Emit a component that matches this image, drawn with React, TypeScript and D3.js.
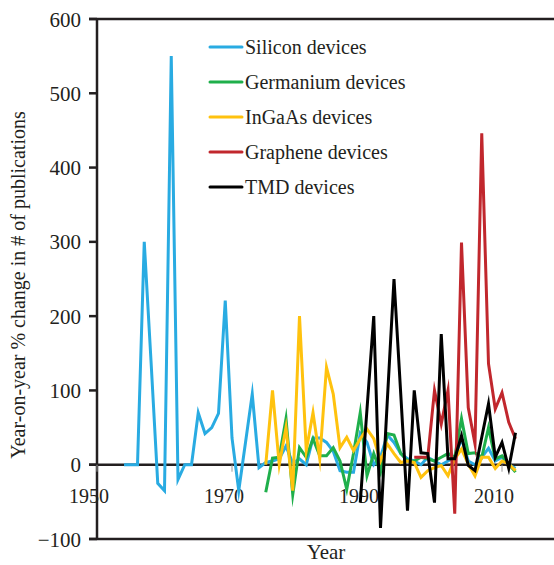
import React from "react";
import * as d3 from "d3";

const siliconStart = 1954;
const siliconValues = [0, 0, 0, 300, 140, -25, -35, 550, -20, 0, 0, 70, 42, 50, 69, 221, 36, -35, 30, 95, -4, 3, 5, 8, 25, 2, 8, 0, 36, 36, 30, 18, -8, -10, -10, 42, 30, 0, 10, 40, 30, 15, 8, 5, 0, 10, 5, 0, 5, 10, 35, 5, 0, 10, 22, 5, 10, 0, -5];

const germaniumStart = 1975;
const germaniumValues = [-37, 9, 10, 62, -40, 23, 10, 35, 12, 12, 23, 5, -33, 15, 70, -15, 15, -10, 42, 40, 15, 5, 5, 10, 8, 5, 10, 15, 10, 62, 15, 16, 10, 50, 8, 12, 1, -10];

const ingaasStart = 1975;
const ingaasValues = [0, 100, 0, 50, -35, 200, 19, 70, 8, 131, 95, 23, 37, 19, 35, 48, 35, 5, 28, 15, 3, 5, 3, -17, -8, -4, -1, -15, 8, 21, 1, -15, 10, 10, -5, 5, 1, -8];

const grapheneStart = 1997;
const grapheneValues = [10, 10, 10, 100, 55, 100, -66, 299, 77, 28, 446, 136, 75, 97, 57, 35];

const tmdStart = 1989;
const tmdValues = [-51, 75, 200, -85, 85, 250, 95, -62, 100, 16, 15, -51, 176, 8, 8, 39, -1, -8, 37, 82, 10, 30, -5, 43];

const seriesNames = ["Silicon devices", "Germanium devices", "InGaAs devices", "Graphene devices", "TMD devices"];
const seriesColors = ["#29ABE2", "#1FAF4B", "#FFC20E", "#C1272D", "#000000"];
const seriesStarts = [siliconStart, germaniumStart, ingaasStart, grapheneStart, tmdStart];
const seriesValues = [siliconValues, germaniumValues, ingaasValues, grapheneValues, tmdValues];

const yTicks = [-100, 0, 100, 200, 300, 400, 500, 600];
const xTicks = [1950, 1970, 1990, 2010];

const FONT = "Liberation Serif, Times New Roman, serif";

export default function App() {
  const W = 554;
  const H = 565;
  const x = d3.scaleLinear().domain([1950, 2010]).range([97, 502]);
  const y = d3.scaleLinear().domain([-100, 600]).range([539, 19]);
  const axisColor = "#231f20";

  const line = d3
    .line<{ yr: number; v: number }>()
    .x((d) => x(d.yr))
    .y((d) => y(d.v));

  const series = seriesValues.map((vals, i) =>
    vals.map((v, j) => ({ yr: seriesStarts[i] + j, v }))
  );

  const y0 = y(0);
  const legendX = 210;
  const legendY0 = 47;
  const legendStep = 35;
  const textStyle = { fontFamily: FONT };

  return (
    <svg
      width={W}
      height={H}
      style={{ position: "absolute", left: 0, top: 0, background: "#fff", fontFamily: FONT }}
    >
      <rect x={0} y={0} width={W} height={H} fill="#fff" />
      <line x1={89} x2={W} y1={y(600)} y2={y(600)} stroke={axisColor} strokeWidth={2.5} />
      <line x1={89} x2={W} y1={y(-100)} y2={y(-100)} stroke={axisColor} strokeWidth={2.5} />
      <line x1={97} x2={97} y1={y(600)} y2={y(-100)} stroke={axisColor} strokeWidth={2.5} />
      {yTicks.map((t) => (
        <g key={t}>
          <line x1={89} x2={97} y1={y(t)} y2={y(t)} stroke={axisColor} strokeWidth={2.5} />
          <text x={81} y={y(t) + 7.5} textAnchor="end" fontSize={21} fill="#231f20" style={textStyle}>
            {t < 0 ? "\u2212" + Math.abs(t) : String(t)}
          </text>
        </g>
      ))}
      <line x1={89} x2={W} y1={y0} y2={y0} stroke={axisColor} strokeWidth={2.5} />
      {xTicks.map((t) => (
        <g key={t}>
          <line x1={x(t)} x2={x(t)} y1={y0} y2={y0 + 7} stroke="#999" strokeWidth={1} />
          <text x={x(t) - 8} y={503} textAnchor="middle" fontSize={20} fill="#231f20" style={textStyle}>
            {String(t)}
          </text>
        </g>
      ))}
      {series.map((s, i) => (
        <path
          key={i}
          d={line(s) || ""}
          fill="none"
          stroke={seriesColors[i]}
          strokeWidth={3}
          strokeLinejoin="miter"
          strokeMiterlimit={10}
        />
      ))}
      {seriesNames.map((n, i) => (
        <g key={n}>
          <line
            x1={legendX}
            x2={legendX + 32}
            y1={legendY0 + i * legendStep}
            y2={legendY0 + i * legendStep}
            stroke={seriesColors[i]}
            strokeWidth={3}
            strokeLinecap="round"
          />
          <text x={legendX + 35} y={legendY0 + i * legendStep + 7} fontSize={20} fill="#231f20" style={textStyle}>
            {n}
          </text>
        </g>
      ))}
      <text x={326} y={559} textAnchor="middle" fontSize={21} fill="#231f20" style={textStyle}>
        Year
      </text>
      <text
        transform={`translate(25, 285) rotate(-90)`}
        textAnchor="middle"
        fontSize={20}
        fill="#231f20"
        style={textStyle}
      >
        Year-on-year % change in # of publications
      </text>
    </svg>
  );
}
